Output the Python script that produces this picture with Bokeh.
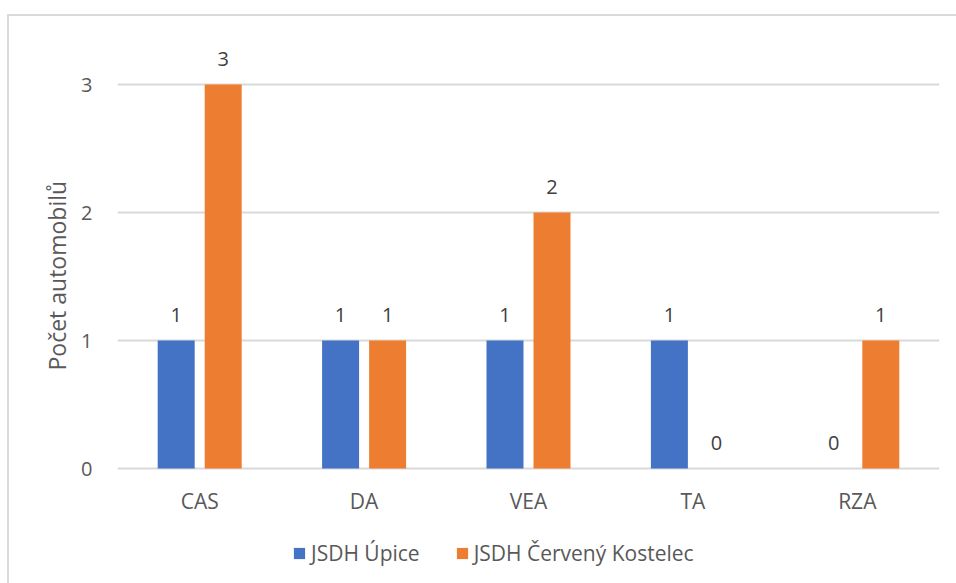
from bokeh.plotting import figure
from bokeh.models import (ColumnDataSource, FactorRange, Range1d, FixedTicker, LabelSet,
                          Legend, LegendItem, Title)
from bokeh.core.properties import value
from bokeh.transform import dodge
from bokeh.embed import file_html
from bokeh.resources import INLINE

categories = ["CAS", "DA", "VEA", "TA", "RZA"]
upice = [1, 1, 1, 1, 0]
kostelec = [3, 1, 2, 0, 1]
series_names = ["JSDH Úpice", "JSDH Červený Kostelec"]
y_ticks = [0, 1, 2, 3]
y_title = "Počet automobilů"

FONT = "Open Sans"
FS = "20px"
TXT = "#595959"
GRID = "#d9d9d9"
BLUE = "#4472C4"
ORANGE = "#ED7D31"

src = ColumnDataSource(dict(
    cat=categories, a=upice, b=kostelec,
    al=[str(v) for v in upice], bl=[str(v) for v in kostelec],
))

# 128 px per unit; frame extends below zero so the category labels and legend sit inside it
p = figure(x_range=FactorRange(*categories, range_padding=0),
           y_range=Range1d(-115 / 128, 3.5),
           frame_width=822, frame_height=563,
           min_border_left=108, min_border_right=17,
           min_border_top=4, min_border_bottom=0,
           output_backend="svg", toolbar_location=None,
           background_fill_color="white", border_fill_color="white")
p.outline_line_color = None
p.margin = (14, 0, 0, 7)
p.styles = {"border-left": "2px solid #d9d9d9", "border-top": "2px solid #d9d9d9"}

off = 0.143
w = 0.225
r1 = p.vbar(x=dodge("cat", -off, range=p.x_range), top="a", width=w, source=src,
            fill_color=BLUE, line_color=None)
r2 = p.vbar(x=dodge("cat", off, range=p.x_range), top="b", width=w, source=src,
            fill_color=ORANGE, line_color=None)

for col, lab, dx in (("a", "al", -off), ("b", "bl", off)):
    p.add_layout(LabelSet(x=dodge("cat", dx, range=p.x_range), y=col, text=lab, source=src,
                          y_offset=26, text_align="center", text_baseline="middle",
                          text_font=value(FONT), text_font_size=FS, text_color="#404040"))

# axes
p.yaxis.ticker = FixedTicker(ticks=y_ticks)
p.yaxis.axis_line_color = None
p.yaxis.major_tick_line_color = None
p.yaxis.minor_tick_line_color = None
p.yaxis.major_label_standoff = 19
p.yaxis.major_label_text_font = FONT
p.yaxis.major_label_text_font_size = FS
p.yaxis.major_label_text_color = TXT

p.add_layout(Title(text=y_title, align="left", offset=213, standoff=12,
                   text_font=FONT, text_font_size="23px", text_font_style="normal",
                   text_color=TXT), "left")

p.xaxis.fixed_location = 0
p.xaxis.axis_line_color = None
p.xaxis.major_tick_line_color = None
p.xaxis.minor_tick_line_color = None
p.xaxis.major_label_standoff = 12
p.xaxis.major_label_text_font = FONT
p.xaxis.major_label_text_font_size = "21px"
p.xaxis.major_label_text_color = TXT

p.xgrid.grid_line_color = None
p.ygrid.grid_line_color = GRID
p.ygrid.grid_line_width = 2

legend = Legend(items=[LegendItem(label=series_names[0], renderers=[r1]),
                       LegendItem(label=series_names[1], renderers=[r2])],
                orientation="horizontal", location=(175, 16),
                glyph_width=14, glyph_height=14, label_standoff=5, spacing=35,
                padding=0, margin=0, border_line_color=None, background_fill_alpha=0,
                label_text_font=FONT, label_text_font_size="21px", label_text_color=TXT,
                label_height=20)
p.add_layout(legend, "center")

open("out.html", "w").write(file_html(p, INLINE))
